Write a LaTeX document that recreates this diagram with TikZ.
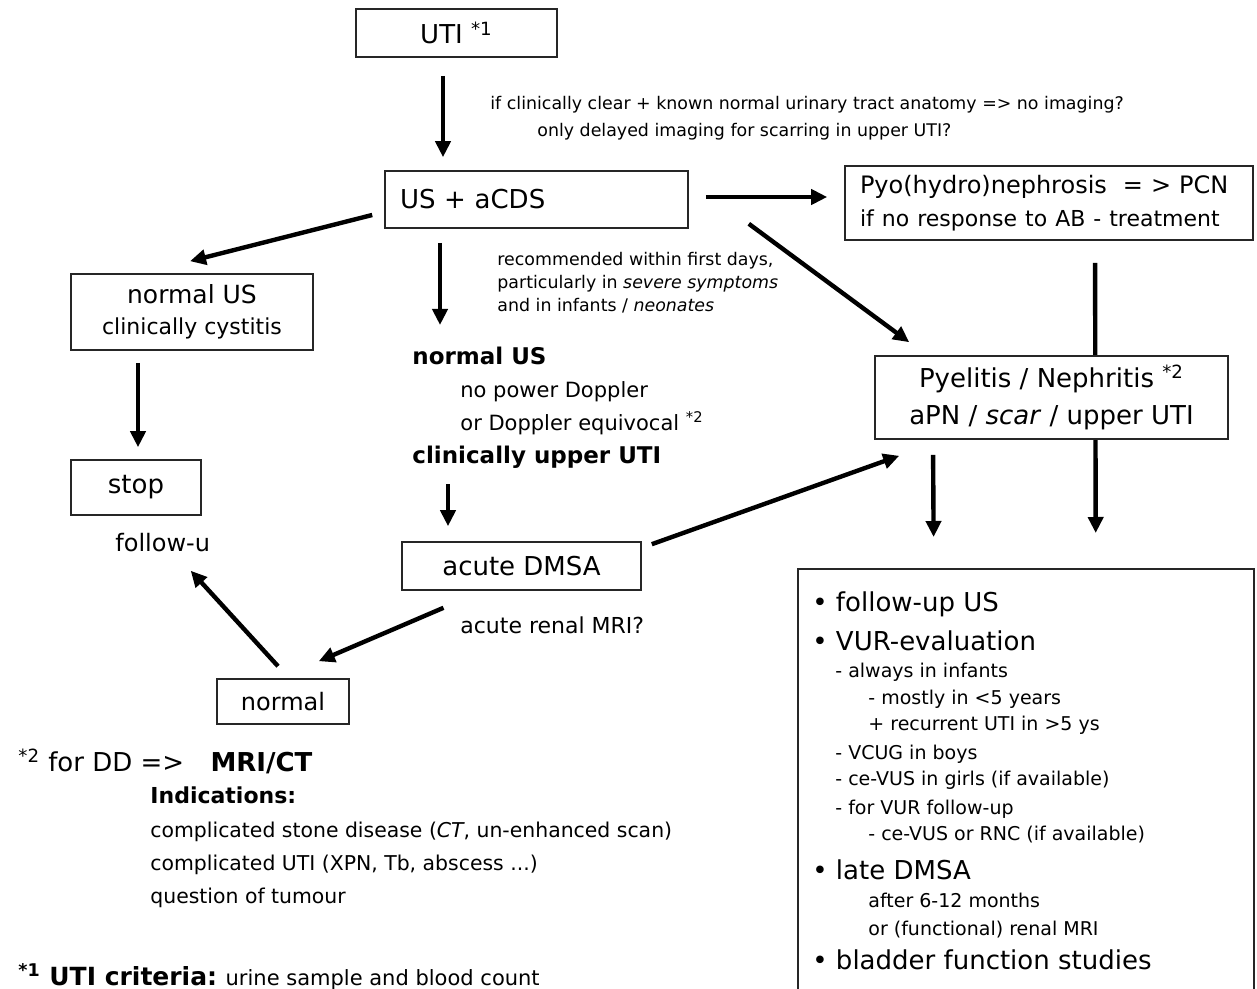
\documentclass[tikz,border=0pt]{standalone}
\usepackage{fontspec}
\setmainfont{DejaVu Sans}
\usetikzlibrary{arrows.meta}
\newcommand\fnm[1]{\textsuperscript{*#1}}
\newcommand\fbig{\fontsize{13}{16}\selectfont}
\newcommand\fmed{\fontsize{11}{14}\selectfont}
\newcommand\fsub{\fontsize{9.5}{12}\selectfont}
\newcommand\fnote{\fontsize{8.7}{11}\selectfont}
\newcommand\fdd{\fontsize{10.2}{12}\selectfont}
\tikzset
{
  box/.style = {draw=black!85, line width=0.8pt, inner sep=0pt, align=center, font=\fbig},
  arr/.style = {->, line width=2.2pt},
  txt/.style = {anchor=base west, inner sep=0pt}
}

\begin{document}
\begin{tikzpicture}[x=0.5pt, y=-0.5pt, >={Triangle[length=8pt,width=7.5pt]}]
\path[use as bounding box, clip] (0,0) rectangle (1257,989);

% boxes
\node [box, minimum width=100.5pt, minimum height=24pt] (uti) at (456.5,33) {UTI \fnm{1}};
\node [box, minimum width=151.5pt, minimum height=28.5pt, text width=136.5pt, inner xsep=7.5pt, align=left] (us) at (536.5,199.5) {US + aCDS};
\node [box, minimum width=204pt, minimum height=37pt, text width=189pt, inner xsep=7.5pt, align=left,
       font=\fontsize{12}{16.5}\selectfont] (pyo) at (1049,203)
      {Pyo(hydro)nephrosis \ = > PCN\\{\fontsize{11}{16.5}\selectfont if no response to AB - treatment}};
\node [box, minimum width=121pt, minimum height=38pt, font=\fontsize{12.5}{15.5}\selectfont] (nus) at (192,312)
      {normal US\\{\fontsize{11}{15.5}\selectfont clinically cystitis}};
\node [box, minimum width=65pt, minimum height=27.5pt] (stop) at (136,487.5) {stop};
\node [txt, font=\fontsize{12}{14}\selectfont] (fol) at (115,551) {follow-u};
\node [anchor=north west, inner sep=0pt, align=left, font=\fontsize{10.5}{16.5}\selectfont] (mid) at (412,347)
      {{\fontsize{11.5}{16.5}\selectfont\bfseries normal US}\\
       \hspace*{24pt}no power Doppler\\
       \hspace*{24pt}or Doppler equivocal \fnm{2}\\
       {\fontsize{11.5}{16.5}\selectfont\bfseries clinically upper UTI}};
\node [box, minimum width=119.5pt, minimum height=24pt] (dmsa) at (521.5,566) {acute DMSA};
\node [box, minimum width=66pt, minimum height=22.5pt, font=\fontsize{12}{14}\selectfont] (nrm) at (283,701.5) {normal};
\node [box, minimum width=228pt, minimum height=216pt, anchor=north west] (fu) at (797,568) {};

% line behind the Pyelitis box
\draw [arr, shorten <=11pt, shorten >=17.5pt] ([xshift=23pt]pyo.south) -- ([xshift=35pt]fu.north);
\node [box, fill=white, minimum width=176.5pt, minimum height=41.5pt, font=\fontsize{13}{18.5}\selectfont] (pyel) at (1051.5,397.5)
      {Pyelitis / Nephritis \fnm{2}\\aPN / \textit{scar} / upper UTI};

% notes
\node [txt, font=\fnote] (n1) at (490,110) {if clinically clear + known normal urinary tract anatomy => no imaging?};
\node [txt, font=\fnote] (n2) at (537,137) {only delayed imaging for scarring in upper UTI?};
\node [txt, font=\fnote] (n3) at (497,266) {recommended within first days,};
\node [txt, font=\fnote] (n4) at (497,289) {particularly in \textit{severe symptoms}};
\node [txt, font=\fnote] (n5) at (497,312) {and in infants / \textit{neonates}};
\node [txt, font=\fmed] (n6) at (460,633) {acute renal MRI?};

% arrows
\draw [arr, shorten <=9pt, shorten >=6.5pt] ([xshift=-6.75pt]uti.south) -- ([xshift=-46.75pt]us.north);
\draw [arr, shorten <=8.5pt, shorten >=8.5pt] ([yshift=1.25pt]us.east) -- ([yshift=3pt]pyo.west);
\draw [arr] ([xshift=30pt,yshift=2.5pt]us.south east) -- ([xshift=17.5pt,yshift=6.5pt]pyel.north west);
\draw [arr, shorten <=7.5pt, shorten >=15.5pt] ([xshift=-59.25pt]pyel.south) -- ([xshift=-46pt]fu.north);
\draw [arr] ([xshift=-6pt,yshift=-7.75pt]us.west) -- ([xshift=-1pt,yshift=6pt]nus.north);
\draw [arr, shorten <=7pt, shorten >=11pt] ([xshift=-48.25pt]us.south) -- ([xshift=14pt]mid.north west);
\draw [arr, shorten <=7.5pt, shorten >=7.5pt] ([xshift=18pt]mid.south west) -- ([xshift=-36.75pt]dmsa.north);
\draw [arr, shorten <=6pt, shorten >=6pt] ([xshift=-27pt]nus.south) -- ([xshift=1pt]stop.north);
\draw [arr] ([xshift=5pt,yshift=-1.5pt]dmsa.north east) -- ([xshift=12.5pt,yshift=-8pt]pyel.south west);
\draw [arr] ([xshift=-39pt,yshift=-8.5pt]dmsa.south) -- ([xshift=-15.5pt,yshift=8.5pt]nrm.north east);
\draw [arr] ([xshift=-2.5pt,yshift=6pt]nrm.north) -- ([xshift=14pt,yshift=-9.5pt]fol.south);

% follow-up list
\foreach \x/\y/\f/\t [count=\i] in {
  812/611/\fbig/{• follow-up US},
  812/650/\fbig/{• VUR-evaluation},
  835/677/\fsub/{- always in infants},
  868/704/\fsub/{- mostly in <5 years},
  868/730/\fsub/{+ recurrent UTI in >5 ys},
  835/759/\fsub/{- VCUG in boys},
  835/785/\fsub/{- ce-VUS in girls (if available)},
  835/814/\fsub/{- for VUR follow-up},
  868/840/\fsub/{- ce-VUS or RNC (if available)},
  812/879/\fbig/{• late DMSA},
  868/907/\fsub/{after 6-12 months},
  868/935/\fsub/{or (functional) renal MRI},
  812/969/\fbig/{• bladder function studies}}
  \node [txt, font=\f] (fu\i) at (\x,\y) {\t};

% footnotes
\foreach \x/\y/\t [count=\i] in {
  18/771/{\fbig\fnm{2} for DD => \hspace{9pt}\textbf{MRI/CT}},
  150/803/{\fmed\bfseries Indications:},
  150/837/{\fdd complicated stone disease (\textit{CT}, un-enhanced scan)},
  150/870/{\fdd complicated UTI (XPN, Tb, abscess ...)},
  150/903/{\fdd question of tumour},
  18/985/{{\fontsize{12.5}{14}\selectfont\bfseries\fnm{1} UTI criteria:} {\fontsize{10.5}{12}\selectfont urine sample and blood count}}}
  \node [txt] (fn\i) at (\x,\y) {\t};
\end{tikzpicture}
\end{document}
